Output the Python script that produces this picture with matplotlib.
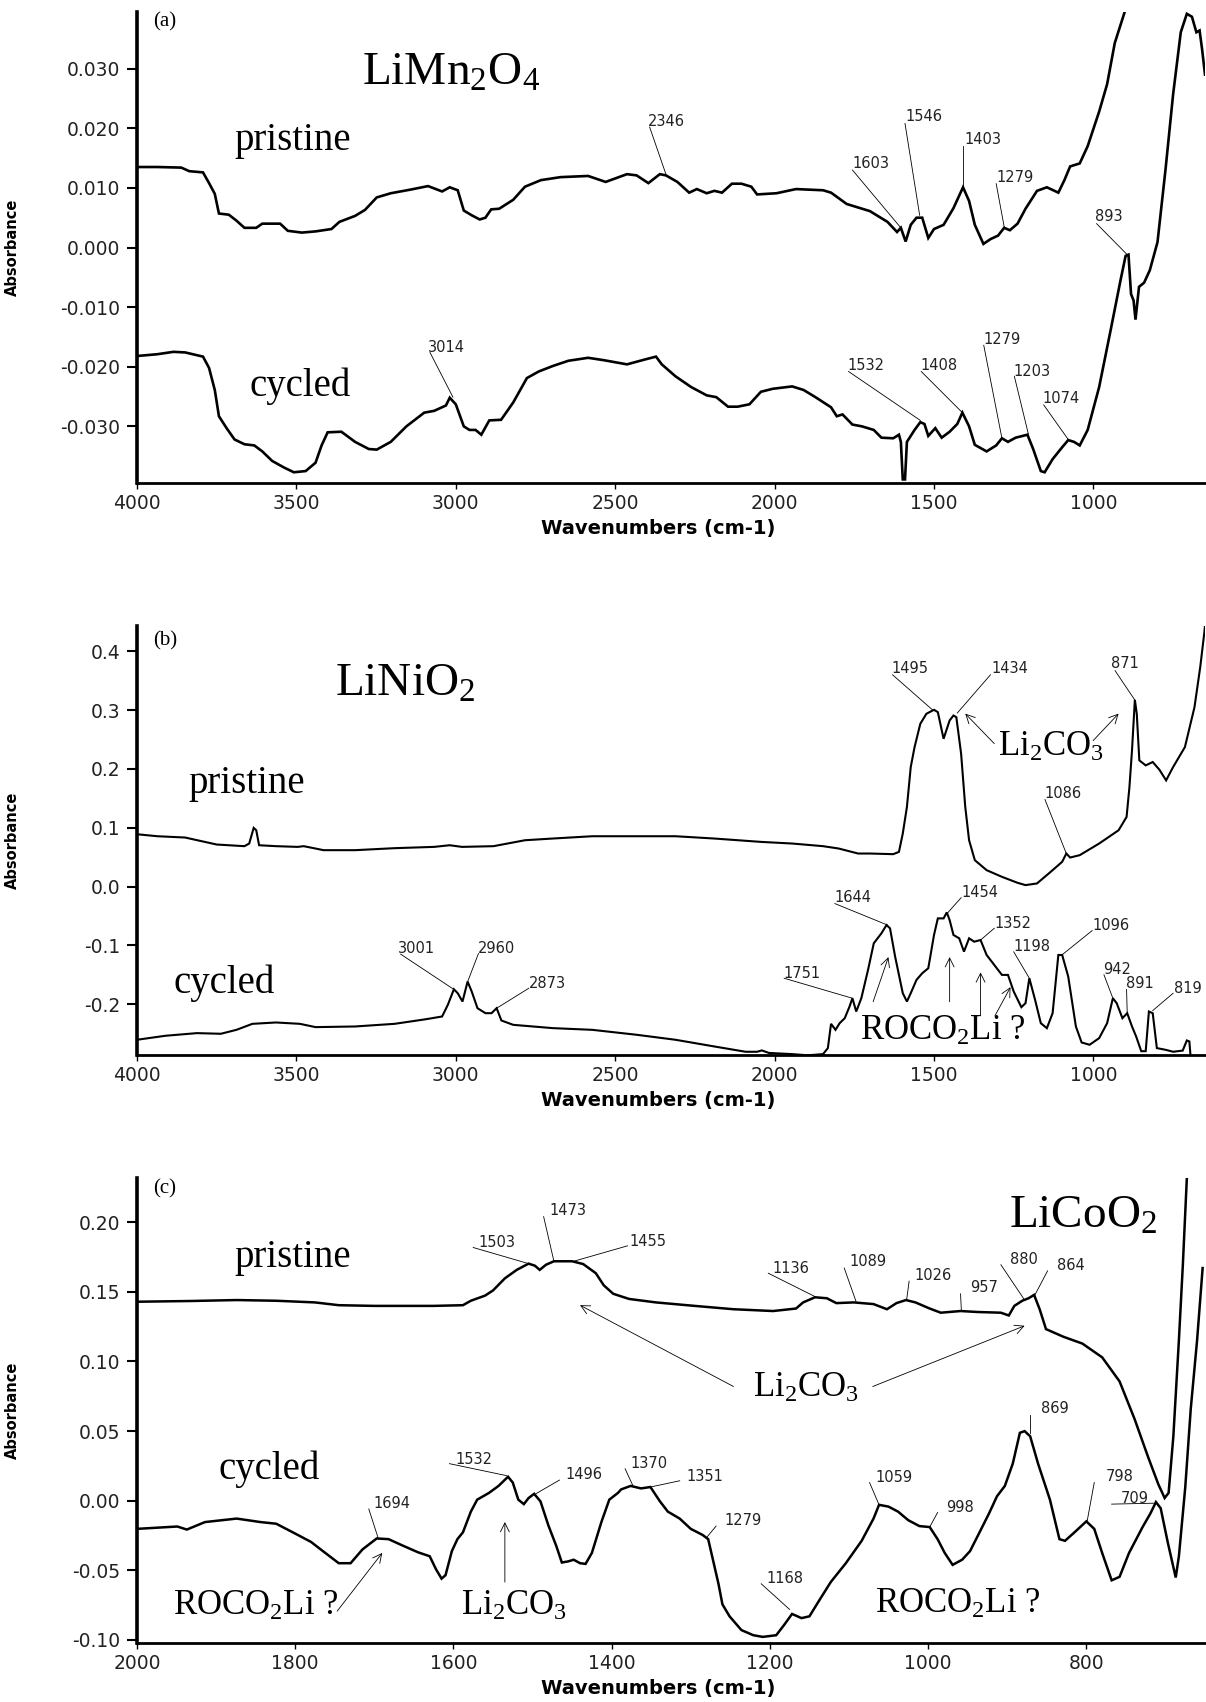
import matplotlib
matplotlib.use('Agg')
import matplotlib.pyplot as plt

plt.rcParams['font.family'] = ['DejaVu Sans']
plt.rcParams['mathtext.default'] = 'regular'
plt.rcParams['axes.unicode_minus'] = False

# ---------------- data ----------------
# Panel (a) LiMn2O4
a_pri_wn = [4000, 3936, 3861, 3836, 3793, 3774, 3756, 3743, 3712, 3688, 3663, 3626, 3607, 3551, 3527, 3483,
            3440, 3390, 3365, 3316, 3285, 3248, 3204, 3143, 3087, 3043, 3019, 2994, 2975, 2950, 2925, 2907,
            2889, 2864, 2820, 2783, 2733, 2672, 2585, 2530, 2463, 2433, 2396, 2360, 2341, 2305, 2268, 2244,
            2213, 2189, 2165, 2134, 2104, 2073, 2055, 1994, 1933, 1848, 1823, 1774, 1701, 1646, 1616, 1604,
            1589, 1573, 1555, 1537, 1518, 1500, 1470, 1439, 1409, 1390, 1372, 1345, 1323, 1299, 1280, 1262,
            1238, 1213, 1177, 1146, 1110, 1091, 1073, 1043, 1018, 982, 957, 933, 902, 880, 820, 750, 700, 650]
a_pri_ab = [0.0135, 0.0135, 0.0134, 0.0128, 0.0126, 0.0108, 0.0090, 0.0057, 0.0055, 0.0045, 0.0033, 0.0033,
            0.0040, 0.0040, 0.0028, 0.0025, 0.0027, 0.0031, 0.0043, 0.0053, 0.0063, 0.0084, 0.0091, 0.0097,
            0.0103, 0.0094, 0.0101, 0.0096, 0.0062, 0.0054, 0.0047, 0.0050, 0.0064, 0.0065, 0.0080, 0.0102,
            0.0113, 0.0118, 0.0120, 0.0110, 0.0123, 0.0121, 0.0108, 0.0123, 0.0121, 0.0110, 0.0092, 0.0098,
            0.0091, 0.0095, 0.0092, 0.0107, 0.0107, 0.0102, 0.0089, 0.0091, 0.0098, 0.0096, 0.0092, 0.0073,
            0.0061, 0.0043, 0.0026, 0.0033, 0.0010, 0.0038, 0.0050, 0.0050, 0.0016, 0.0031, 0.0038, 0.0066,
            0.0101, 0.0078, 0.0038, 0.0006, 0.0014, 0.0020, 0.0033, 0.0029, 0.0040, 0.0065, 0.0095, 0.0101,
            0.0092, 0.0113, 0.0136, 0.0141, 0.0170, 0.0228, 0.0274, 0.0343, 0.0395, 0.046, 0.052, 0.056,
            0.058, 0.055]

a_cyc_wn = [4000, 3936, 3886, 3849, 3793, 3774, 3756, 3743, 3719, 3694, 3663, 3632, 3607, 3576, 3539, 3508,
            3471, 3440, 3421, 3402, 3359, 3316, 3273, 3248, 3204, 3155, 3099, 3068, 3031, 3019, 3000, 2975,
            2957, 2938, 2920, 2895, 2858, 2820, 2777, 2740, 2697, 2647, 2585, 2536, 2463, 2408, 2372, 2354,
            2311, 2262, 2213, 2183, 2146, 2116, 2079, 2043, 2006, 1945, 1909, 1872, 1823, 1805, 1787, 1756,
            1726, 1689, 1665, 1628, 1610, 1604, 1598, 1591, 1585, 1561, 1543, 1530, 1518, 1496, 1476, 1451,
            1427, 1411, 1390, 1372, 1335, 1305, 1287, 1268, 1244, 1207, 1189, 1165, 1153, 1128, 1098, 1079,
            1061, 1043, 1018, 982, 945, 915, 899, 890, 882, 874, 868, 857, 841, 823, 799, 774, 750, 726, 707,
            691, 677, 667, 659, 650]
a_cyc_ab = [-0.0182, -0.0179, -0.0175, -0.0176, -0.0183, -0.0202, -0.0239, -0.0283, -0.0303, -0.0322,
            -0.0330, -0.0332, -0.0342, -0.0358, -0.0369, -0.0377, -0.0375, -0.0361, -0.0332, -0.0310,
            -0.0309, -0.0326, -0.0338, -0.0339, -0.0326, -0.0300, -0.0277, -0.0274, -0.0265, -0.0252,
            -0.0263, -0.0300, -0.0306, -0.0306, -0.0314, -0.0290, -0.0289, -0.0260, -0.0219, -0.0208,
            -0.0199, -0.0190, -0.0185, -0.0189, -0.0196, -0.0188, -0.0183, -0.0196, -0.0216, -0.0234,
            -0.0248, -0.0251, -0.0267, -0.0267, -0.0263, -0.0242, -0.0237, -0.0233, -0.0239, -0.0251,
            -0.0268, -0.0283, -0.0280, -0.0297, -0.0300, -0.0306, -0.0319, -0.0320, -0.0314, -0.0326,
            -0.0389, -0.0389, -0.0326, -0.0306, -0.0293, -0.0296, -0.0316, -0.0303, -0.0319, -0.0309,
            -0.0296, -0.0277, -0.0300, -0.0331, -0.0342, -0.0332, -0.0320, -0.0326, -0.0319, -0.0314,
            -0.0338, -0.0375, -0.0377, -0.0355, -0.0335, -0.0323, -0.0326, -0.0332, -0.0306, -0.0234,
            -0.0136, -0.0055, -0.0014, -0.0012, -0.0078, -0.0089, -0.0121, -0.0066, -0.0059, -0.0038,
            0.0009, 0.0130, 0.0257, 0.0361, 0.0392, 0.0387, 0.0361, 0.0364, 0.0332, 0.0290]

# Panel (b) LiNiO2
b_pri_wn = [4000, 3936, 3849, 3750, 3663, 3648, 3634, 3626, 3617, 3564, 3496, 3477, 3440, 3415, 3316, 3192,
            3068, 3019, 2981, 2882, 2783, 2696, 2572, 2433, 2311, 2189, 2043, 1945, 1848, 1799, 1738, 1701,
            1628, 1610, 1598, 1585, 1573, 1561, 1543, 1524, 1500, 1488, 1470, 1451, 1439, 1430, 1415, 1402,
            1390, 1372, 1335, 1287, 1238, 1213, 1177, 1134, 1098, 1085, 1073, 1043, 982, 921, 896, 887, 879,
            870, 864, 856, 836, 814, 793, 772, 750, 713, 683, 665, 652, 646]
b_pri_ab = [0.0889, 0.0855, 0.0833, 0.0714, 0.0686, 0.0731, 0.0997, 0.0957, 0.0702, 0.0686, 0.0674, 0.0686,
            0.0646, 0.0618, 0.0618, 0.0652, 0.0674, 0.0702, 0.0674, 0.0686, 0.0787, 0.0816, 0.0855, 0.0855,
            0.0855, 0.0816, 0.0759, 0.0731, 0.0686, 0.0646, 0.0561, 0.0561, 0.0550, 0.0589, 0.0900, 0.1353,
            0.2032, 0.2371, 0.2767, 0.2937, 0.3005, 0.2965, 0.2512, 0.2824, 0.2908, 0.2880, 0.2258, 0.1353,
            0.0787, 0.0448, 0.0278, 0.0165, 0.0063, 0.0024, 0.0052, 0.0250, 0.0420, 0.0561, 0.0493, 0.0533,
            0.0731, 0.0957, 0.1183, 0.1692, 0.2314, 0.3174, 0.2937, 0.2145, 0.2060, 0.2117, 0.1986, 0.1805,
            0.2032, 0.2371, 0.3050, 0.3729, 0.4322, 0.47]

b_cyc_wn = [4000, 3911, 3812, 3737, 3688, 3638, 3564, 3489, 3440, 3316, 3192, 3093, 3043, 3025, 3006, 2994,
            2979, 2963, 2950, 2932, 2907, 2888, 2872, 2857, 2820, 2696, 2572, 2433, 2311, 2189, 2091, 2055,
            2040, 2018, 1945, 1896, 1848, 1833, 1823, 1809, 1796, 1780, 1765, 1756, 1744, 1728, 1707, 1689,
            1665, 1649, 1638, 1622, 1598, 1585, 1573, 1555, 1537, 1518, 1500, 1488, 1470, 1460, 1451, 1439,
            1421, 1406, 1390, 1374, 1354, 1335, 1311, 1287, 1268, 1250, 1226, 1213, 1201, 1183, 1165, 1146,
            1128, 1110, 1098, 1079, 1055, 1037, 1012, 982, 957, 939, 927, 909, 894, 879, 866, 850, 836, 826,
            814, 801, 774, 750, 720, 707, 699, 694, 690]
b_cyc_ab = [-0.2606, -0.2538, -0.2493, -0.2504, -0.2437, -0.2335, -0.2312, -0.2335, -0.2391, -0.2380,
            -0.2335, -0.2256, -0.2210, -0.2012, -0.1747, -0.1814, -0.1956, -0.1616, -0.1787, -0.2069,
            -0.2154, -0.2154, -0.2069, -0.2278, -0.2352, -0.2408, -0.2437, -0.2521, -0.2606, -0.2720,
            -0.2810, -0.2810, -0.2787, -0.2830, -0.2850, -0.2870, -0.2850, -0.2748, -0.2335, -0.2437,
            -0.2324, -0.2239, -0.2041, -0.1899, -0.2126, -0.1899, -0.1419, -0.0966, -0.0796, -0.0655,
            -0.0711, -0.1192, -0.1814, -0.1956, -0.1814, -0.1588, -0.1475, -0.1390, -0.0824, -0.0542,
            -0.0542, -0.0440, -0.0570, -0.0824, -0.0881, -0.1107, -0.0881, -0.0938, -0.0910, -0.1164,
            -0.1334, -0.1503, -0.1503, -0.1786, -0.2052, -0.1984, -0.1560, -0.1927, -0.2324, -0.2409,
            -0.2154, -0.1164, -0.1164, -0.1532, -0.2380, -0.2652, -0.2691, -0.2578, -0.2324, -0.1899,
            -0.1984, -0.2239, -0.2154, -0.2380, -0.2550, -0.2800, -0.2800, -0.2126, -0.2154, -0.2748,
            -0.2776, -0.2810, -0.2790, -0.2618, -0.2635, -0.2974, -0.32]

# Panel (c) LiCoO2
c_pri_wn = [2000, 1934, 1874, 1824, 1775, 1745, 1700, 1625, 1588, 1578, 1560, 1550, 1535, 1520, 1505, 1497,
            1491, 1483, 1473, 1450, 1436, 1420, 1410, 1398, 1378, 1344, 1295, 1246, 1196, 1167, 1158, 1143,
            1128, 1116, 1094, 1069, 1052, 1040, 1028, 1016, 998, 984, 959, 937, 908, 898, 891, 881, 873, 866,
            859, 851, 829, 805, 780, 758, 739, 722, 709, 701, 696, 690, 683, 678, 673, 665, 650]
c_pri_ab = [0.1430, 0.1435, 0.1442, 0.1437, 0.1425, 0.1405, 0.1400, 0.1400, 0.1405, 0.1437, 0.1474, 0.1511,
            0.1598, 0.1659, 0.1704, 0.1689, 0.1659, 0.1696, 0.1721, 0.1721, 0.1701, 0.1635, 0.1548, 0.1487,
            0.1450, 0.1425, 0.1400, 0.1376, 0.1363, 0.1381, 0.1425, 0.1462, 0.1455, 0.1420, 0.1425, 0.1413,
            0.1376, 0.1420, 0.1442, 0.1425, 0.1381, 0.1351, 0.1363, 0.1356, 0.1351, 0.1331, 0.1400, 0.1437,
            0.1455, 0.1479, 0.1376, 0.1233, 0.1178, 0.1129, 0.1030, 0.0857, 0.0586, 0.0314, 0.0117, 0.0018,
            0.0055, 0.0462, 0.1153, 0.1696, 0.2313, 0.26, 0.27]

c_cyc_wn = [2000, 1964, 1949, 1937, 1914, 1874, 1844, 1824, 1799, 1780, 1765, 1745, 1730, 1715, 1697, 1682,
            1665, 1645, 1630, 1622, 1615, 1610, 1602, 1595, 1588, 1578, 1570, 1555, 1543, 1531, 1525, 1518,
            1511, 1505, 1498, 1490, 1480, 1470, 1463, 1455, 1448, 1440, 1433, 1425, 1413, 1403, 1392, 1388,
            1376, 1363, 1351, 1339, 1329, 1314, 1300, 1285, 1278, 1273, 1265, 1260, 1251, 1236, 1221, 1209,
            1192, 1182, 1172, 1160, 1150, 1138, 1123, 1104, 1084, 1069, 1062, 1050, 1038, 1025, 1011, 998,
            988, 979, 969, 957, 947, 935, 923, 913, 903, 893, 884, 878, 871, 861, 846, 834, 827, 815, 800,
            790, 780, 768, 758, 746, 729, 719, 712, 706, 697, 687, 683, 675, 668, 660, 653]
c_cyc_ab = [-0.0204, -0.0192, -0.0187, -0.0209, -0.0155, -0.0130, -0.0155, -0.0167, -0.0241, -0.0298,
            -0.0364, -0.0451, -0.0451, -0.0352, -0.0273, -0.0278, -0.0322, -0.0372, -0.0401, -0.0495,
            -0.0562, -0.0537, -0.0364, -0.0278, -0.0229, -0.0080, 0.0006, 0.0055, 0.0105, 0.0171, 0.0129,
            0.0006, -0.0026, 0.0018, 0.0048, -0.0006, -0.0179, -0.0327, -0.0446, -0.0438, -0.0426, -0.0451,
            -0.0456, -0.0377, -0.0155, 0.0006, 0.0055, 0.0080, 0.0105, 0.0087, 0.0097, -0.0006, -0.0080,
            -0.0130, -0.0204, -0.0248, -0.0278, -0.0401, -0.0599, -0.0747, -0.0833, -0.0932, -0.0969,
            -0.0981, -0.0969, -0.0895, -0.0816, -0.0846, -0.0833, -0.0722, -0.0586, -0.0451, -0.0290,
            -0.0130, -0.0031, -0.0044, -0.0080, -0.0142, -0.0184, -0.0191, -0.0278, -0.0377, -0.0463,
            -0.0426, -0.0364, -0.0229, -0.0093, 0.0030, 0.0105, 0.0265, 0.0487, 0.0499, 0.0462, 0.0265,
            0.0006, -0.0278, -0.0290, -0.0229, -0.0150, -0.0204, -0.0377, -0.0574, -0.0549, -0.0377,
            -0.0192, -0.0093, -0.0011, -0.0056, -0.0303, -0.0554, -0.0401, 0.0092, 0.0660, 0.1153, 0.1672]

ab_xticks = [4000, 3500, 3000, 2500, 2000, 1500, 1000]
c_xticks = [2000, 1800, 1600, 1400, 1200, 1000, 800]
a_yticks = [0.030, 0.020, 0.010, 0.000, -0.010, -0.020, -0.030]
b_yticks = [0.4, 0.3, 0.2, 0.1, 0.0, -0.1, -0.2]
c_yticks = [0.20, 0.15, 0.10, 0.05, 0.00, -0.05, -0.10]

# ---------------- annotation layout ----------------
# (label, text x, text y, leader start x, y, leader end x, y)
a_peaks = [("2346", 2396, 0.0212, 2392, 0.0202, 2341, 0.0123),
           ("1603", 1756, 0.0141, 1756, 0.0130, 1604, 0.0033),
           ("1546", 1591, 0.0219, 1591, 0.0208, 1545, 0.0054),
           ("1403", 1406, 0.0181, 1409, 0.0170, 1409, 0.0102),
           ("1279", 1305, 0.0118, 1305, 0.0107, 1280, 0.0035),
           ("893", 994, 0.0052, 990, 0.0040, 894, -0.0012),
           ("3014", 3087, -0.0167, 3081, -0.0176, 3009, -0.0251),
           ("1532", 1772, -0.0198, 1768, -0.0208, 1543, -0.0290),
           ("1408", 1543, -0.0198, 1540, -0.0208, 1411, -0.0277),
           ("1279", 1344, -0.0154, 1344, -0.0164, 1287, -0.0320),
           ("1203", 1250, -0.0208, 1248, -0.0216, 1204, -0.0313),
           ("1074", 1159, -0.0254, 1156, -0.0264, 1079, -0.0322)]
b_peaks = [("1495", 1634, 0.370, 1630, 0.360, 1504, 0.300),
           ("1434", 1321, 0.370, 1323, 0.360, 1427, 0.295),
           ("871", 945, 0.379, 932, 0.367, 870, 0.317),
           ("1086", 1155, 0.158, 1152, 0.148, 1085, 0.056),
           ("3001", 3182, -0.105, 3173, -0.115, 3006, -0.175),
           ("2960", 2932, -0.105, 2929, -0.114, 2963, -0.162),
           ("2873", 2771, -0.1645, 2771, -0.173, 2872, -0.207),
           ("1751", 1972, -0.1475, 1970, -0.156, 1756, -0.190),
           ("1644", 1813, -0.019, 1811, -0.029, 1646, -0.0655),
           ("1454", 1415, -0.0106, 1415, -0.019, 1457, -0.0446),
           ("1352", 1311, -0.0627, 1311, -0.071, 1354, -0.091),
           ("1198", 1252, -0.1023, 1250, -0.111, 1201, -0.156),
           ("1096", 1004, -0.0655, 1004, -0.075, 1098, -0.116),
           ("942", 970, -0.1407, 967, -0.150, 939, -0.190),
           ("891", 899, -0.1656, 896, -0.175, 894, -0.215),
           ("819", 748, -0.173, 750, -0.1815, 814, -0.211)]
c_peaks = [("1503", 1568, 0.1857, 1575, 0.1820, 1505, 0.1704),
           ("1473", 1479, 0.2084, 1486, 0.2042, 1473, 0.1721),
           ("1455", 1378, 0.1864, 1380, 0.1832, 1448, 0.1721),
           ("1136", 1197, 0.1667, 1202, 0.1635, 1143, 0.1467),
           ("1089", 1099, 0.1716, 1106, 0.1672, 1091, 0.1430),
           ("1026", 1017, 0.1622, 1024, 0.1578, 1027, 0.1450),
           ("957", 947, 0.1529, 959, 0.1487, 958, 0.1371),
           ("880", 897, 0.1733, 908, 0.1696, 878, 0.1442),
           ("864", 837, 0.1691, 849, 0.1652, 865, 0.1479),
           ("1694", 1701, -0.0019, 1707, -0.0061, 1695, -0.0273),
           ("1532", 1598, 0.0295, 1605, 0.0265, 1533, 0.0179),
           ("1496", 1458, 0.0186, 1466, 0.0147, 1496, 0.0048),
           ("1370", 1376, 0.0265, 1383, 0.0228, 1373, 0.0105),
           ("1351", 1305, 0.0171, 1314, 0.0142, 1351, 0.0097),
           ("1279", 1258, -0.0142, 1268, -0.0184, 1280, -0.0266),
           ("1168", 1204, -0.0562, 1211, -0.0599, 1175, -0.0784),
           ("1059", 1067, 0.0166, 1074, 0.0129, 1062, -0.0031),
           ("998", 977, -0.0051, 988, -0.0086, 998, -0.0191),
           ("869", 857, 0.0665, 871, 0.0615, 871, 0.0487),
           ("798", 776, 0.0171, 790, 0.0129, 799, -0.0150),
           ("709", 757, 0.0013, 768, -0.0026, 712, -0.0019)]

# serif labels: (text, x, y, size)
a_words = [("(a)", 3948, 0.0378, 15), ("LiMn$_2$O$_4$", 3293, 0.0292, 34),
           ("pristine", 3694, 0.0179, 28), ("cycled", 3648, -0.0232, 28)]
b_words = [("(b)", 3948, 0.418, 15), ("LiNiO$_2$", 3378, 0.343, 34),
           ("pristine", 3839, 0.175, 28), ("cycled", 3886, -0.164, 28),
           ("Li$_2$CO$_3$", 1299, 0.237, 25), ("ROCO$_2$Li ?", 1732, -0.246, 25)]
c_words = [("(c)", 1979, 0.2239, 15), ("LiCoO$_2$", 898, 0.204, 34),
           ("pristine", 1877, 0.1746, 28), ("cycled", 1897, 0.0228, 28),
           ("Li$_2$CO$_3$", 1221, 0.0808, 25), ("ROCO$_2$Li ?", 1954, -0.0759, 25),
           ("Li$_2$CO$_3$", 1590, -0.0759, 25), ("ROCO$_2$Li ?", 1067, -0.0747, 25)]

# arrows: (tail x, tail y, head x, head y)
b_arrows = [(1691, -0.196, 1643, -0.120), (1451, -0.196, 1451, -0.120),
            (1354, -0.220, 1354, -0.146), (1309, -0.220, 1260, -0.171),
            (1311, 0.243, 1402, 0.294), (1001, 0.248, 921, 0.294)]
c_arrows = [(1246, 0.0820, 1440, 0.1405), (1070, 0.0820, 878, 0.1257),
            (1747, -0.0796, 1690, -0.0377), (1535, -0.0587, 1535, -0.0155)]

# ---------------- figure ----------------
W, H = 1206, 1702
fig = plt.figure(figsize=(W / 100, H / 100), dpi=100)
LEFT, RIGHT = 137, 1205


def make_axes(top, bottom):
    return fig.add_axes([LEFT / W, 1 - bottom / H, (RIGHT - LEFT) / W, (bottom - top) / H])


def style(ax, top, bottom, xlim, ylim, xticks, yticks, fmt):
    ax.set_xlim(*xlim)
    ax.set_ylim(*ylim)
    for s in ('top', 'right'):
        ax.spines[s].set_visible(False)
    ax.spines['left'].set_linewidth(2.6)
    ax.spines['bottom'].set_linewidth(2.0)
    ax.set_xticks(xticks)
    ax.set_yticks(yticks)
    ax.set_yticklabels([fmt.format(v) for v in yticks])
    ax.tick_params(axis='y', direction='out', length=7, width=1.5, pad=5, labelsize=13.5, labelcolor='#222222')
    ax.tick_params(axis='x', direction='out', length=4, width=1.0, pad=4, labelsize=13.5, labelcolor='#222222')
    ax.set_ylabel('Absorbance', fontweight='bold', fontsize=10.5)
    ax.yaxis.set_label_coords((20 - LEFT) / (RIGHT - LEFT), 0.5)
    ax.set_xlabel('Wavenumbers (cm-1)', fontweight='bold', fontsize=14)
    ax.xaxis.set_label_coords((658 - LEFT) / (RIGHT - LEFT), -36 / (bottom - top))


def annotate(ax, peaks, words, arrows):
    for lab, tx, ty, x0, y0, x1, y1 in peaks:
        ax.plot([x0, x1], [y0, y1], color='black', lw=0.6)
        ax.text(tx, ty, lab, fontsize=10.5, ha='left', va='center', color='#222222')
    for txt, x, y, fs in words:
        ax.text(x, y, txt, fontsize=fs, family='Liberation Serif', ha='left', va='center')
    for x0, y0, x1, y1 in arrows:
        ax.annotate('', xy=(x1, y1), xytext=(x0, y0),
                    arrowprops=dict(arrowstyle='->', lw=0.6, color='black',
                                    shrinkA=0, shrinkB=0, mutation_scale=16))


panels = [
    (12, 483, (4000, 650), (-0.0395, 0.0395), ab_xticks, a_yticks, '{:.3f}',
     [(a_pri_wn, a_pri_ab), (a_cyc_wn, a_cyc_ab)], 1.9, a_peaks, a_words, []),
    (626, 1055, (4000, 650), (-0.2865, 0.443), ab_xticks, b_yticks, '{:.1f}',
     [(b_pri_wn, b_pri_ab), (b_cyc_wn, b_cyc_ab)], 1.5, b_peaks, b_words, b_arrows),
    (1178, 1643, (2000, 650), (-0.1025, 0.232), c_xticks, c_yticks, '{:.2f}',
     [(c_pri_wn, c_pri_ab), (c_cyc_wn, c_cyc_ab)], 1.8, c_peaks, c_words, c_arrows),
]

for top, bottom, xlim, ylim, xt, yt, fmt, series, lw, peaks, words, arrows in panels:
    ax = make_axes(top, bottom)
    for wn, ab in series:
        ax.plot(wn, ab, color='black', lw=lw, solid_joinstyle='miter')
    style(ax, top, bottom, xlim, ylim, xt, yt, fmt)
    annotate(ax, peaks, words, arrows)

fig.savefig('out.png', dpi=100)
